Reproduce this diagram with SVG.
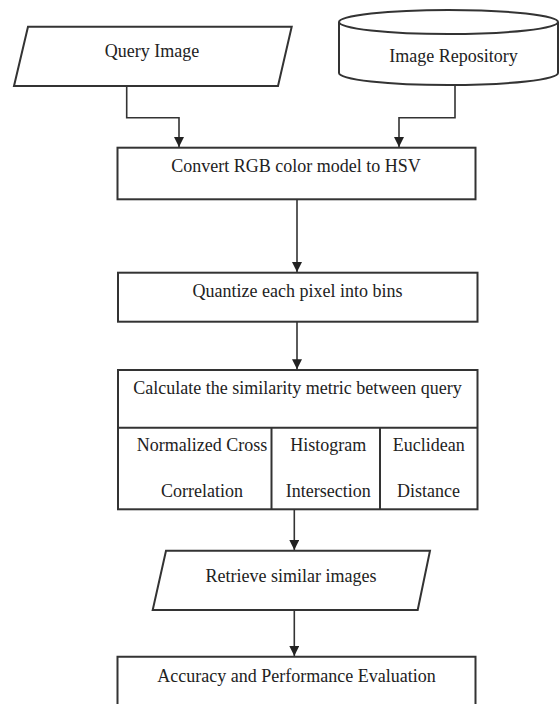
<svg xmlns="http://www.w3.org/2000/svg" width="560" height="704" viewBox="0 0 560 704">
<style>
.shape{fill:#fff;stroke:#333;stroke-width:2}
.conn{fill:none;stroke:#333;stroke-width:1.6}
text{font-family:"Liberation Serif","Times New Roman",serif;font-size:18px;fill:#222;text-anchor:middle}
</style>
<defs>
<marker id="arr" markerUnits="userSpaceOnUse" markerWidth="10" markerHeight="11" refX="5" refY="10" orient="0" viewBox="0 0 10 11">
<path d="M0,0 L10,0 L5,10 Z" fill="#222"/>
</marker>
</defs>
<rect width="560" height="704" fill="#fff"/>
<g id="query-image">
<path class="shape" d="M28,26.7 L291.7,26.7 L278,86 L14,86 Z"/>
<text x="152" y="57">Query Image</text>
</g>
<g id="image-repository">
<path class="shape" d="M339,22 V73 A109.5,12 0 0 0 558,73 V22"/>
<ellipse class="shape" cx="448.5" cy="22" rx="109.5" ry="12"/>
<text x="453.5" y="62">Image Repository</text>
</g>
<g id="convert">
<rect class="shape" x="117.5" y="147.7" width="358" height="51.6"/>
<text x="296" y="172">Convert RGB color model to HSV</text>
</g>
<g id="quantize">
<rect class="shape" x="118" y="272.7" width="359.5" height="49"/>
<text x="297.5" y="297">Quantize each pixel into bins</text>
</g>
<g id="similarity">
<rect class="shape" x="118" y="370" width="359.5" height="139.3"/>
<line class="shape" x1="118" y1="427.7" x2="477.5" y2="427.7"/>
<line class="shape" x1="271.5" y1="427.7" x2="271.5" y2="509.3"/>
<line class="shape" x1="380" y1="427.7" x2="380" y2="509.3"/>
<text x="297.5" y="394">Calculate the similarity metric between query</text>
<text x="202" y="450.7">Normalized Cross</text>
<text x="202" y="496.7">Correlation</text>
<text x="328.3" y="450.7">Histogram</text>
<text x="328.3" y="496.7">Intersection</text>
<text x="428.7" y="450.7">Euclidean</text>
<text x="428.5" y="496.7">Distance</text>
</g>
<g id="retrieve">
<path class="shape" d="M166,550.7 L430,550.7 L417.7,610 L152.7,610 Z"/>
<text x="291" y="582">Retrieve similar images</text>
</g>
<g id="evaluation">
<path class="shape" d="M117.5,704 V656.7 H475.5 V704"/>
<text x="296.5" y="682">Accuracy and Performance Evaluation</text>
</g>
<g id="connectors">
<path class="conn" d="M126.7,86 V117.7 H179 V147" marker-end="url(#arr)"/>
<path class="conn" d="M455,85 V117.7 H399 V147" marker-end="url(#arr)"/>
<path class="conn" d="M297,199.3 V272" marker-end="url(#arr)"/>
<path class="conn" d="M297,321.7 V369.3" marker-end="url(#arr)"/>
<path class="conn" d="M294.3,509.3 V550" marker-end="url(#arr)"/>
<path class="conn" d="M294.3,610 V656" marker-end="url(#arr)"/>
</g>
</svg>
